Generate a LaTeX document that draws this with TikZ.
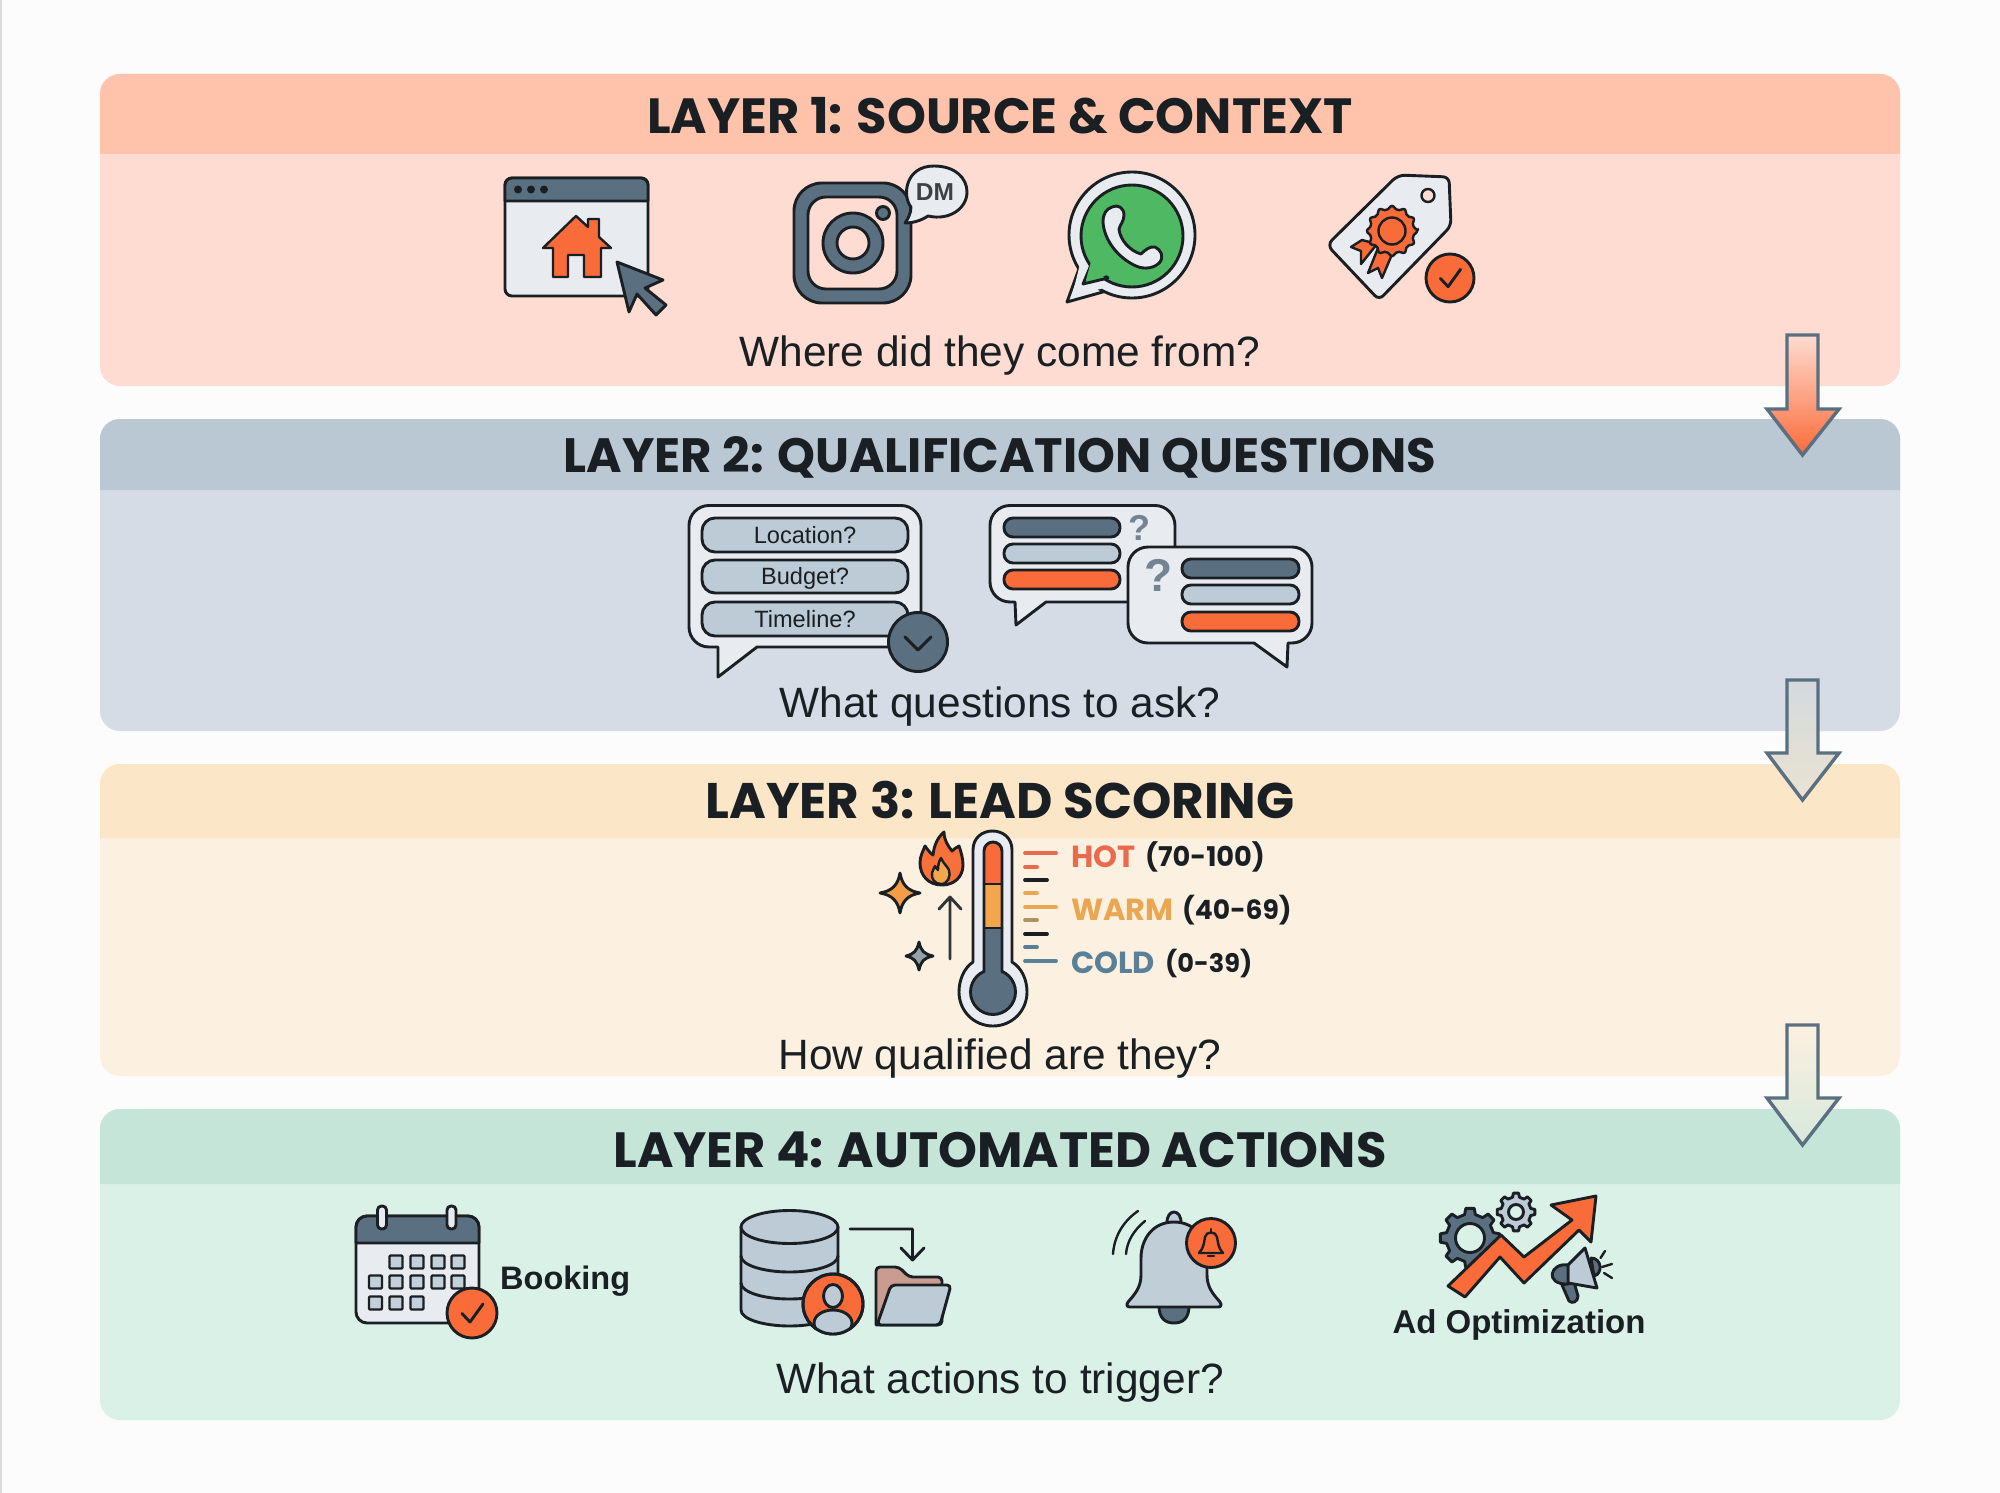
\documentclass[tikz,border=0pt]{standalone}
\usepackage{fontspec}
\setmainfont{Liberation Sans}
\newfontfamily\popfont{Poppins}
\usetikzlibrary{shadings}
\definecolor{ink}{HTML}{1A1F23}
\definecolor{slate}{HTML}{5A7080}
\definecolor{mist}{HTML}{BCCBD5}
\definecolor{paper}{HTML}{E8ECF1}
\definecolor{flame}{HTML}{F96B38}
\definecolor{amber}{HTML}{F3A64C}
\definecolor{wapp}{HTML}{4FB862}
\definecolor{bgpage}{HTML}{FCFCFD}
\definecolor{hotc}{HTML}{E96B4E}
\definecolor{warmc}{HTML}{EAA752}
\definecolor{coldc}{HTML}{5A8098}
\definecolor{foldc}{HTML}{C99C8F}
\definecolor{arrowtop}{HTML}{D3DADD}
\definecolor{arrowtan}{HTML}{EAE2D2}
\definecolor{arrowgreen}{HTML}{D6E9DC}
\definecolor{oneH}{HTML}{FFC2AB}\definecolor{oneB}{HTML}{FFDCD1}
\definecolor{twoH}{HTML}{B9C8D2}\definecolor{twoB}{HTML}{D5DCE6}
\definecolor{thrH}{HTML}{FBE6C8}\definecolor{thrB}{HTML}{FCF0E0}
\definecolor{fouH}{HTML}{C5E5D8}\definecolor{fouB}{HTML}{DAF1E7}
\tikzset{
  ic/.style={draw=ink,line width=2.9pt,line join=round,line cap=round},
  thin ic/.style={ic,line width=2.4pt},
  titletext/.style={font=\popfont\bfseries\fontsize{#1}{54}\selectfont,text=ink,anchor=center,inner sep=0pt},
  subtext/.style={font=\fontsize{42.4}{46}\selectfont,text=ink,anchor=center,inner sep=0pt},
  boldtext/.style={font=\bfseries\fontsize{33}{38}\selectfont,text=ink,anchor=center,inner sep=0pt},
  pilltext/.style={font=\fontsize{23.6}{27}\selectfont,text=ink,anchor=center,inner sep=0pt},
  scoretext/.style={font=\popfont\bfseries\fontsize{30.5}{34}\selectfont,anchor=west,inner sep=0pt},
  scorevalue/.style={font=\popfont\bfseries\fontsize{#1}{34}\selectfont,text=ink,anchor=west,inner sep=0pt},
  flowarrow/.style={draw=slate,line width=3.4pt,line join=miter},
  tick/.style={line width=3.8pt,line cap=round},
}
\newcommand{\panelbox}[6]{% y1 yh y2 head body name
  \fill[#5,rounded corners=20pt] (100,#1) rectangle (1900,#3);
  \fill[#4] (100,#2) [rounded corners=20pt] -- (100,#1) -- (1900,#1) [sharp corners] -- (1900,#2) -- cycle;
}
\newcommand{\flowshape}[3]{% ytop ybase ytip
  (1787,#1) -- (1818,#1) -- (1818,#2) -- (1839,#2) -- (1802.5,#3) -- (1767,#2) -- (1787,#2) -- cycle
}
\newcommand{\checkbadge}[3]{%
  \filldraw[ic,fill=flame] (#1,#2) circle[radius=#3];
  \draw[ic] (#1-0.4*#3,#2+0.02*#3) -- (#1-0.08*#3,#2+0.36*#3) -- (#1+0.44*#3,#2-0.36*#3);
}
\newcommand{\pillbar}[5]{\filldraw[ic,fill=#5,rounded corners=9pt] (#1,#2) rectangle (#3,#4);}
\newcommand{\widepill}[5]{\filldraw[ic,fill=#5,rounded corners=13pt] (#1,#2) rectangle (#3,#4);}
\newcommand{\gearshape}[5]{% x y r hole fill
  \filldraw[ic,fill=#5,even odd rule]
    ([shift={(#1,#2)}]-13:#3*0.8)
    \foreach \a in {0,45,...,315}{
      -- ([shift={(#1,#2)}]\a-13:#3*0.8) -- ([shift={(#1,#2)}]\a-8:#3) -- ([shift={(#1,#2)}]\a+8:#3) -- ([shift={(#1,#2)}]\a+13:#3*0.8)
    } -- cycle (#1,#2) circle[radius=#4];
}
\begin{document}
\begin{tikzpicture}[x=1pt,y=-1pt]
\useasboundingbox (0,0) rectangle (2000,1493);
\fill[bgpage] (0,0) rectangle (2000,1493);
\fill[black!14] (0,0) rectangle (2,1493);
% ---------- panels
\panelbox{74}{154}{386}{oneH}{oneB}{p1}
\panelbox{419}{490}{731}{twoH}{twoB}{p2}
\panelbox{764}{838}{1076}{thrH}{thrB}{p3}
\panelbox{1109}{1184}{1420}{fouH}{fouB}{p4}
\node[titletext=49.5] (t1) at (1000,116) {LAYER 1: SOURCE \& CONTEXT};
\node[titletext=48.2] (t2) at (1000,457) {LAYER 2: QUALIFICATION QUESTIONS};
\node[titletext=50] (t3) at (1000,800) {LAYER 3: LEAD SCORING};
\node[titletext=49.5] (t4) at (1000,1150) {LAYER 4: AUTOMATED ACTIONS};
\node[subtext] (s1) at (1000,355.5) {Where did they come from?};
\node[subtext] (s2) at (1000,706.5) {What questions to ask?};
\node[subtext] (s3) at (1000,1058.5) {How qualified are they?};
\node[subtext] (s4) at (1000,1383) {What actions to trigger?};
% ---------- flow arrows
\filldraw[flowarrow,top color=oneB,bottom color=flame] \flowshape{335}{409}{455};
\filldraw[flowarrow,top color=arrowtop,bottom color=arrowtan] \flowshape{680}{753}{800};
\filldraw[flowarrow,top color=thrB,bottom color=arrowgreen] \flowshape{1025}{1098}{1145};
% ---------- browser
\filldraw[ic,fill=paper,rounded corners=7pt] (505,178) rectangle (648,296);
\filldraw[ic,fill=slate] (505,201) [rounded corners=7pt] -- (505,178) -- (648,178) [sharp corners] -- (648,201) -- cycle;
\foreach \x in {518,531,544}{\fill[ink] (\x,189.5) circle[radius=4];}
\filldraw[thin ic,fill=flame] (576,216) -- (588,227) -- (588,219) -- (599,219) -- (599,237) -- (611,248) -- (601,248) -- (601,277) -- (584,277) -- (584,255) -- (568,255) -- (568,277) -- (553,277) -- (553,248) -- (543,248) -- cycle;
\filldraw[ic,fill=slate] (617,262) -- (663,280) -- (645,288) -- (666,305) -- (656,315) -- (637,294) -- (629,312) -- cycle;
% ---------- instagram
\filldraw[ic,fill=slate,rounded corners=28pt] (794,183) rectangle (911,303);
\filldraw[ic,fill=oneB,rounded corners=18pt] (808,197) rectangle (897,289);
\filldraw[ic,fill=slate] (853,243) circle[radius=30];
\filldraw[ic,fill=oneB] (853,243) circle[radius=16];
\filldraw[ic,fill=slate] (883,213) circle[radius=6.5];
\filldraw[ic,fill=paper] (911,207) .. controls (902,196) and (905,166) .. (934,166) .. controls (955,166) and (967,178) .. (967,192) .. controls (967,208) and (950,221) .. (928,216) .. controls (922,220) and (914,223) .. (905,223) .. controls (908,219) and (911,213) .. (911,207) -- cycle;
\node[font=\fontsize{24.5}{27}\selectfont\bfseries,text=ink!85,inner sep=0pt] (dm) at (935,192) {DM};
% ---------- whatsapp
\filldraw[ic,fill=paper] (1080,266) -- (1067,302) -- (1110,290) -- cycle;
\filldraw[ic,fill=paper] (1132,235) circle[radius=63];
\fill[paper] (1080,264) -- (1072,296) -- (1112,286) -- (1100,262) -- cycle;
\filldraw[ic,fill=wapp] (1132,236) circle[radius=51];
\filldraw[ic,fill=wapp] (1091,265) -- (1083,284) -- (1108,278) -- cycle;
\fill[wapp] (1091,262) -- (1086,280) -- (1108,275) -- (1105,258) -- cycle;
\filldraw[ic,fill=paper] (1112,207) .. controls (1118,204) and (1124,208) .. (1124,215) .. controls (1124,221) and (1120,225) .. (1119,229) .. controls (1120,240) and (1130,251) .. (1141,254) .. controls (1145,250) and (1150,246) .. (1155,247) .. controls (1161,250) and (1164,256) .. (1160,262) .. controls (1155,268) and (1145,270) .. (1136,266) .. controls (1118,258) and (1104,240) .. (1103,222) .. controls (1103,214) and (1106,209) .. (1112,207) -- cycle;
% ---------- tag
\filldraw[ic,fill=paper] (1398,175) [rounded corners=6pt] -- (1449,177) -- (1451,226) -- (1379,300) [rounded corners=7pt] -- (1327,245) -- cycle;
\draw[thin ic,fill=oneB] (1428,195.5) circle[radius=6.5];
\filldraw[thin ic,fill=flame] (1362,240) -- (1351,247) -- (1361,251) -- (1361,264) -- (1377,244) -- cycle;
\filldraw[thin ic,fill=flame] (1378,248) -- (1368,273) -- (1378,268) -- (1382,278) -- (1393,252) -- cycle;
\filldraw[thin ic,fill=flame,rounded corners=2pt]
  ([shift={(1392,231)}]0:26) \foreach \a in {0,30,...,330}{ -- ([shift={(1392,231)}]\a:26) -- ([shift={(1392,231)}]\a+15:21) } -- cycle;
\draw[thin ic] (1392,231) circle[radius=13.5];
\checkbadge{1450}{278}{24}
% ---------- question bubble 1
\filldraw[ic,fill=paper] (709,505.5) [rounded corners=20pt] -- (921,505.5) -- (921,647) [sharp corners] -- (757,647) -- (718,677) -- (718,647) [rounded corners=20pt] -- (689,647) -- (689,505.5) [sharp corners] -- cycle;
\widepill{702}{518}{908}{552}{mist}
\widepill{702}{560}{908}{593}{mist}
\widepill{702}{602}{908}{636}{mist}
\node[pilltext] (q1) at (805,535) {Location?};
\node[pilltext] (q2) at (805,578.5) {Budget?};
\node[pilltext] (q3) at (805,619) {Timeline?};
\filldraw[ic,fill=slate] (918,642) circle[radius=29.5];
\draw[ic] (905,637) -- (918,650) -- (931,637);
% ---------- question bubble 2
\filldraw[ic,fill=paper] (1010,505.5) [rounded corners=20pt] -- (1175,505.5) -- (1175,602) [sharp corners] -- (1046,602) -- (1016,625) -- (1015,602) [rounded corners=20pt] -- (990,602) -- (990,505.5) [sharp corners] -- cycle;
\pillbar{1004}{518}{1120}{537}{slate}
\pillbar{1004}{544}{1120}{563}{mist}
\pillbar{1004}{570}{1120}{589}{flame}
\node[font=\bfseries\fontsize{36}{40}\selectfont,text=slate!85,inner sep=0pt] (qm1) at (1139,528) {?};
% ---------- question bubble 3
\filldraw[ic,fill=paper] (1148,547) [rounded corners=20pt] -- (1312,547) -- (1312,643) [sharp corners] -- (1288,643) -- (1287,667) -- (1254,643) [rounded corners=20pt] -- (1128,643) -- (1128,547) [sharp corners] -- cycle;
\pillbar{1182}{559}{1299}{578}{slate}
\pillbar{1182}{585}{1299}{604}{mist}
\pillbar{1182}{612}{1299}{631}{flame}
\node[font=\bfseries\fontsize{46}{50}\selectfont,text=slate!85,inner sep=0pt] (qm2) at (1159,575) {?};
% ---------- thermometer
\filldraw[ic,fill=paper] (973,962) -- (973,850) .. controls (973,838) and (982,831) .. (992.5,831) .. controls (1003,831) and (1012,838) .. (1012,850) -- (1012,962) .. controls (1022,968) and (1027,980) .. (1027,992) .. controls (1027,1011) and (1012,1026) .. (993,1026) .. controls (974,1026) and (959,1011) .. (959,992) .. controls (959,980) and (964,968) .. (973,962) -- cycle;
\fill[slate] (984,928) rectangle (1002,975);
\fill[amber] (984,884) rectangle (1002,928);
\fill[flame] (984,884) -- (984,851) .. controls (984,846) and (988,842) .. (993,842) .. controls (998,842) and (1002,846) .. (1002,851) -- (1002,884) -- cycle;
\filldraw[ic,fill=slate] (993,992) circle[radius=22.5];
\fill[slate] (985,965) rectangle (1001,980);
\draw[ic] (984,972) -- (984,851) .. controls (984,846) and (988,842) .. (993,842) .. controls (998,842) and (1002,846) .. (1002,851) -- (1002,972);
\draw[ic] (984,884) -- (1002,884) (984,928) -- (1002,928);
\draw[tick,draw=hotc] (1025,853) -- (1056,853);
\draw[tick,draw=hotc] (1025,867) -- (1037,867);
\draw[tick,draw=ink] (1025,880) -- (1047,880);
\draw[tick,draw=warmc] (1025,893) -- (1037,893);
\draw[tick,draw=warmc] (1025,907) -- (1056,907);
\draw[tick,draw=warmc!60!slate] (1025,920) -- (1037,920);
\draw[tick,draw=ink] (1025,934) -- (1047,934);
\draw[tick,draw=coldc] (1025,947) -- (1037,947);
\draw[tick,draw=coldc] (1025,961) -- (1056,961);
\node[scoretext,text=hotc] (hot) at (1071,857) {HOT};
\node[scorevalue=27.2] (hotv) at (1145,857) {(70-100)};
\node[scoretext,text=warmc] (warm) at (1071,910) {WARM};
\node[scorevalue=26.6] (warmv) at (1182,910) {(40-69)};
\node[scoretext,text=coldc] (cold) at (1071,963) {COLD};
\node[scorevalue=25.6] (coldv) at (1165,963) {(0-39)};
% flame and sparkles
\filldraw[ic,fill=flame!90!amber] (942,885) .. controls (928,885) and (920,875) .. (920,863) .. controls (920,856) and (923,851) .. (925,846) .. controls (928,850) and (930,853) .. (933,855) .. controls (934,846) and (937,838) .. (944,832) .. controls (944,840) and (948,846) .. (952,851) .. controls (954,849) and (957,847) .. (959,846) .. controls (961,852) and (963,858) .. (963,865) .. controls (963,877) and (954,885) .. (942,885) -- cycle;
\filldraw[thin ic,fill=amber] (941,884) .. controls (935,884) and (931,879) .. (932,873) .. controls (933,870) and (934,868) .. (935,866) .. controls (936,868) and (937,869) .. (938,870) .. controls (938,865) and (939,861) .. (941,858) .. controls (943,863) and (947,866) .. (949,870) .. controls (951,876) and (948,884) .. (941,884) -- cycle;
\filldraw[ic,fill=amber!85!flame] (900,873) .. controls (902,885) and (908,891) .. (920,893) .. controls (908,895) and (902,901) .. (900,913) .. controls (898,901) and (892,895) .. (880,893) .. controls (892,891) and (898,885) .. (900,873) -- cycle;
\filldraw[ic,fill=slate!65] (919,942) .. controls (921,951) and (924,954) .. (933,956) .. controls (924,958) and (921,961) .. (919,970) .. controls (917,961) and (914,958) .. (906,956) .. controls (914,954) and (917,951) .. (919,942) -- cycle;
\draw[ic,draw=ink!90] (950,959) -- (950,897) (939,909) -- (950,897) -- (961,909);
% ---------- calendar
\filldraw[ic,fill=paper,rounded corners=11pt] (356,1216) rectangle (479,1323);
\filldraw[ic,fill=slate] (356,1243) [rounded corners=11pt] -- (356,1216) -- (479,1216) [sharp corners] -- (479,1243) -- cycle;
\foreach \x in {382,451.5}{\filldraw[ic,fill=paper,rounded corners=4pt] (\x-4.5,1206) rectangle (\x+4.5,1229);}
\foreach \x/\y in {396/1262,417/1262,438/1262,458/1262,375.5/1282,396/1282,417/1282,438/1282,458/1282,375.5/1303,396/1303,417/1303}{
  \filldraw[thin ic,fill=mist!85!paper,rounded corners=1pt] (\x-6.5,\y-6.5) rectangle (\x+6.5,\y+6.5);}
\checkbadge{472}{1313}{25}
\node[boldtext,anchor=west,font=\bfseries\fontsize{32.5}{38}\selectfont] (book) at (500,1281) {Booking};
% ---------- database
\filldraw[ic,fill=mist] (741,1227) -- (741,1310) .. controls (741,1319) and (763,1326) .. (789.5,1326) .. controls (816,1326) and (838,1319) .. (838,1310) -- (838,1227) -- cycle;
\draw[ic] (741,1256) .. controls (741,1265) and (763,1272) .. (789.5,1272) .. controls (816,1272) and (838,1265) .. (838,1256);
\draw[ic] (741,1283) .. controls (741,1292) and (763,1299) .. (789.5,1299) .. controls (816,1299) and (838,1292) .. (838,1283);
\filldraw[ic,fill=mist] (789.5,1227) ellipse[x radius=48.5,y radius=16.5];
\filldraw[ic,fill=flame] (833,1304) circle[radius=30];
\begin{scope}
  \clip (833,1304) circle[radius=29];
  \filldraw[ic,fill=mist] (833,1323) ellipse[x radius=19,y radius=13];
\end{scope}
\draw[ic] (833,1304) circle[radius=30];
\filldraw[ic,fill=mist] (833,1296) ellipse[x radius=9.5,y radius=11.5];
\draw[ic] (850,1229) -- (912.5,1229) -- (912.5,1260) (901,1248) -- (912.5,1260) -- (924,1248);
\filldraw[ic,fill=foldc] (876,1325) [rounded corners=4pt] -- (876,1267) -- (899,1267) -- (909,1277) -- (942,1277) -- (942,1325) [sharp corners] -- cycle;
\filldraw[ic,fill=mist] (877,1325) [rounded corners=4pt] -- (891,1285) -- (951,1285) -- (940,1325) -- cycle;
% ---------- bell
\filldraw[ic,fill=slate] (1159,1306) .. controls (1159,1318) and (1165,1323) .. (1174,1323) .. controls (1183,1323) and (1189,1318) .. (1189,1306) -- cycle;
\filldraw[ic,fill=mist!90!paper] (1167,1224) .. controls (1166,1208) and (1182,1208) .. (1181,1224) -- cycle;
\filldraw[ic,fill=mist!90!paper] (1174,1222) .. controls (1152,1222) and (1141,1240) .. (1141,1258) -- (1141,1275) .. controls (1141,1288) and (1134,1295) .. (1128,1302) .. controls (1126,1305) and (1127,1307) .. (1130,1307) -- (1218,1307) .. controls (1221,1307) and (1222,1305) .. (1220,1302) .. controls (1214,1295) and (1207,1288) .. (1207,1275) -- (1207,1258) .. controls (1207,1240) and (1196,1222) .. (1174,1222) -- cycle;
\draw[thin ic] (1138,1211) .. controls (1122,1222) and (1114,1238) .. (1113,1254);
\draw[thin ic] (1145,1221) .. controls (1134,1230) and (1127,1241) .. (1126,1254);
\filldraw[ic,fill=flame] (1211,1243) circle[radius=24.5];
\draw[thin ic] (1199,1253) .. controls (1204,1248) and (1204,1242) .. (1205,1237) .. controls (1206,1231) and (1216,1231) .. (1217,1237) .. controls (1218,1242) and (1218,1248) .. (1223,1253) -- cycle;
\draw[thin ic] (1211,1229) -- (1211,1232) (1208,1256) -- (1214,1256);
% ---------- ad optimisation
\gearshape{1470}{1238}{30}{14.5}{slate}
\gearshape{1516}{1212}{19}{7.5}{mist}
\filldraw[ic,fill=flame] (1448,1286) -- (1501,1235) -- (1524,1257) -- (1572,1220) -- (1551,1205) -- (1596,1196) -- (1591,1242) -- (1579,1230) -- (1524,1283) -- (1500,1257) -- (1465,1297) -- cycle;
\filldraw[ic,fill=slate] (1569,1301) -- (1562,1285) -- (1574,1282) -- (1578,1296) .. controls (1578,1302) and (1572,1304) .. (1569,1301) -- cycle;
\filldraw[ic,fill=slate] (1591,1258) .. controls (1602,1258) and (1603,1274) .. (1594,1276) -- cycle;
\filldraw[ic,fill=mist] (1568,1265) -- (1585,1248) -- (1597,1288) -- (1568,1283) -- cycle;
\filldraw[ic,fill=slate] (1568,1265) .. controls (1550,1262) and (1544,1285) .. (1568,1284) -- cycle;
\draw[thin ic] (1605,1251) -- (1600.5,1258) (1612,1264) -- (1602,1267) (1612,1278) -- (1604,1273);
\node[boldtext] (adopt) at (1519,1324.5) {Ad Optimization};
\end{tikzpicture}
\end{document}
